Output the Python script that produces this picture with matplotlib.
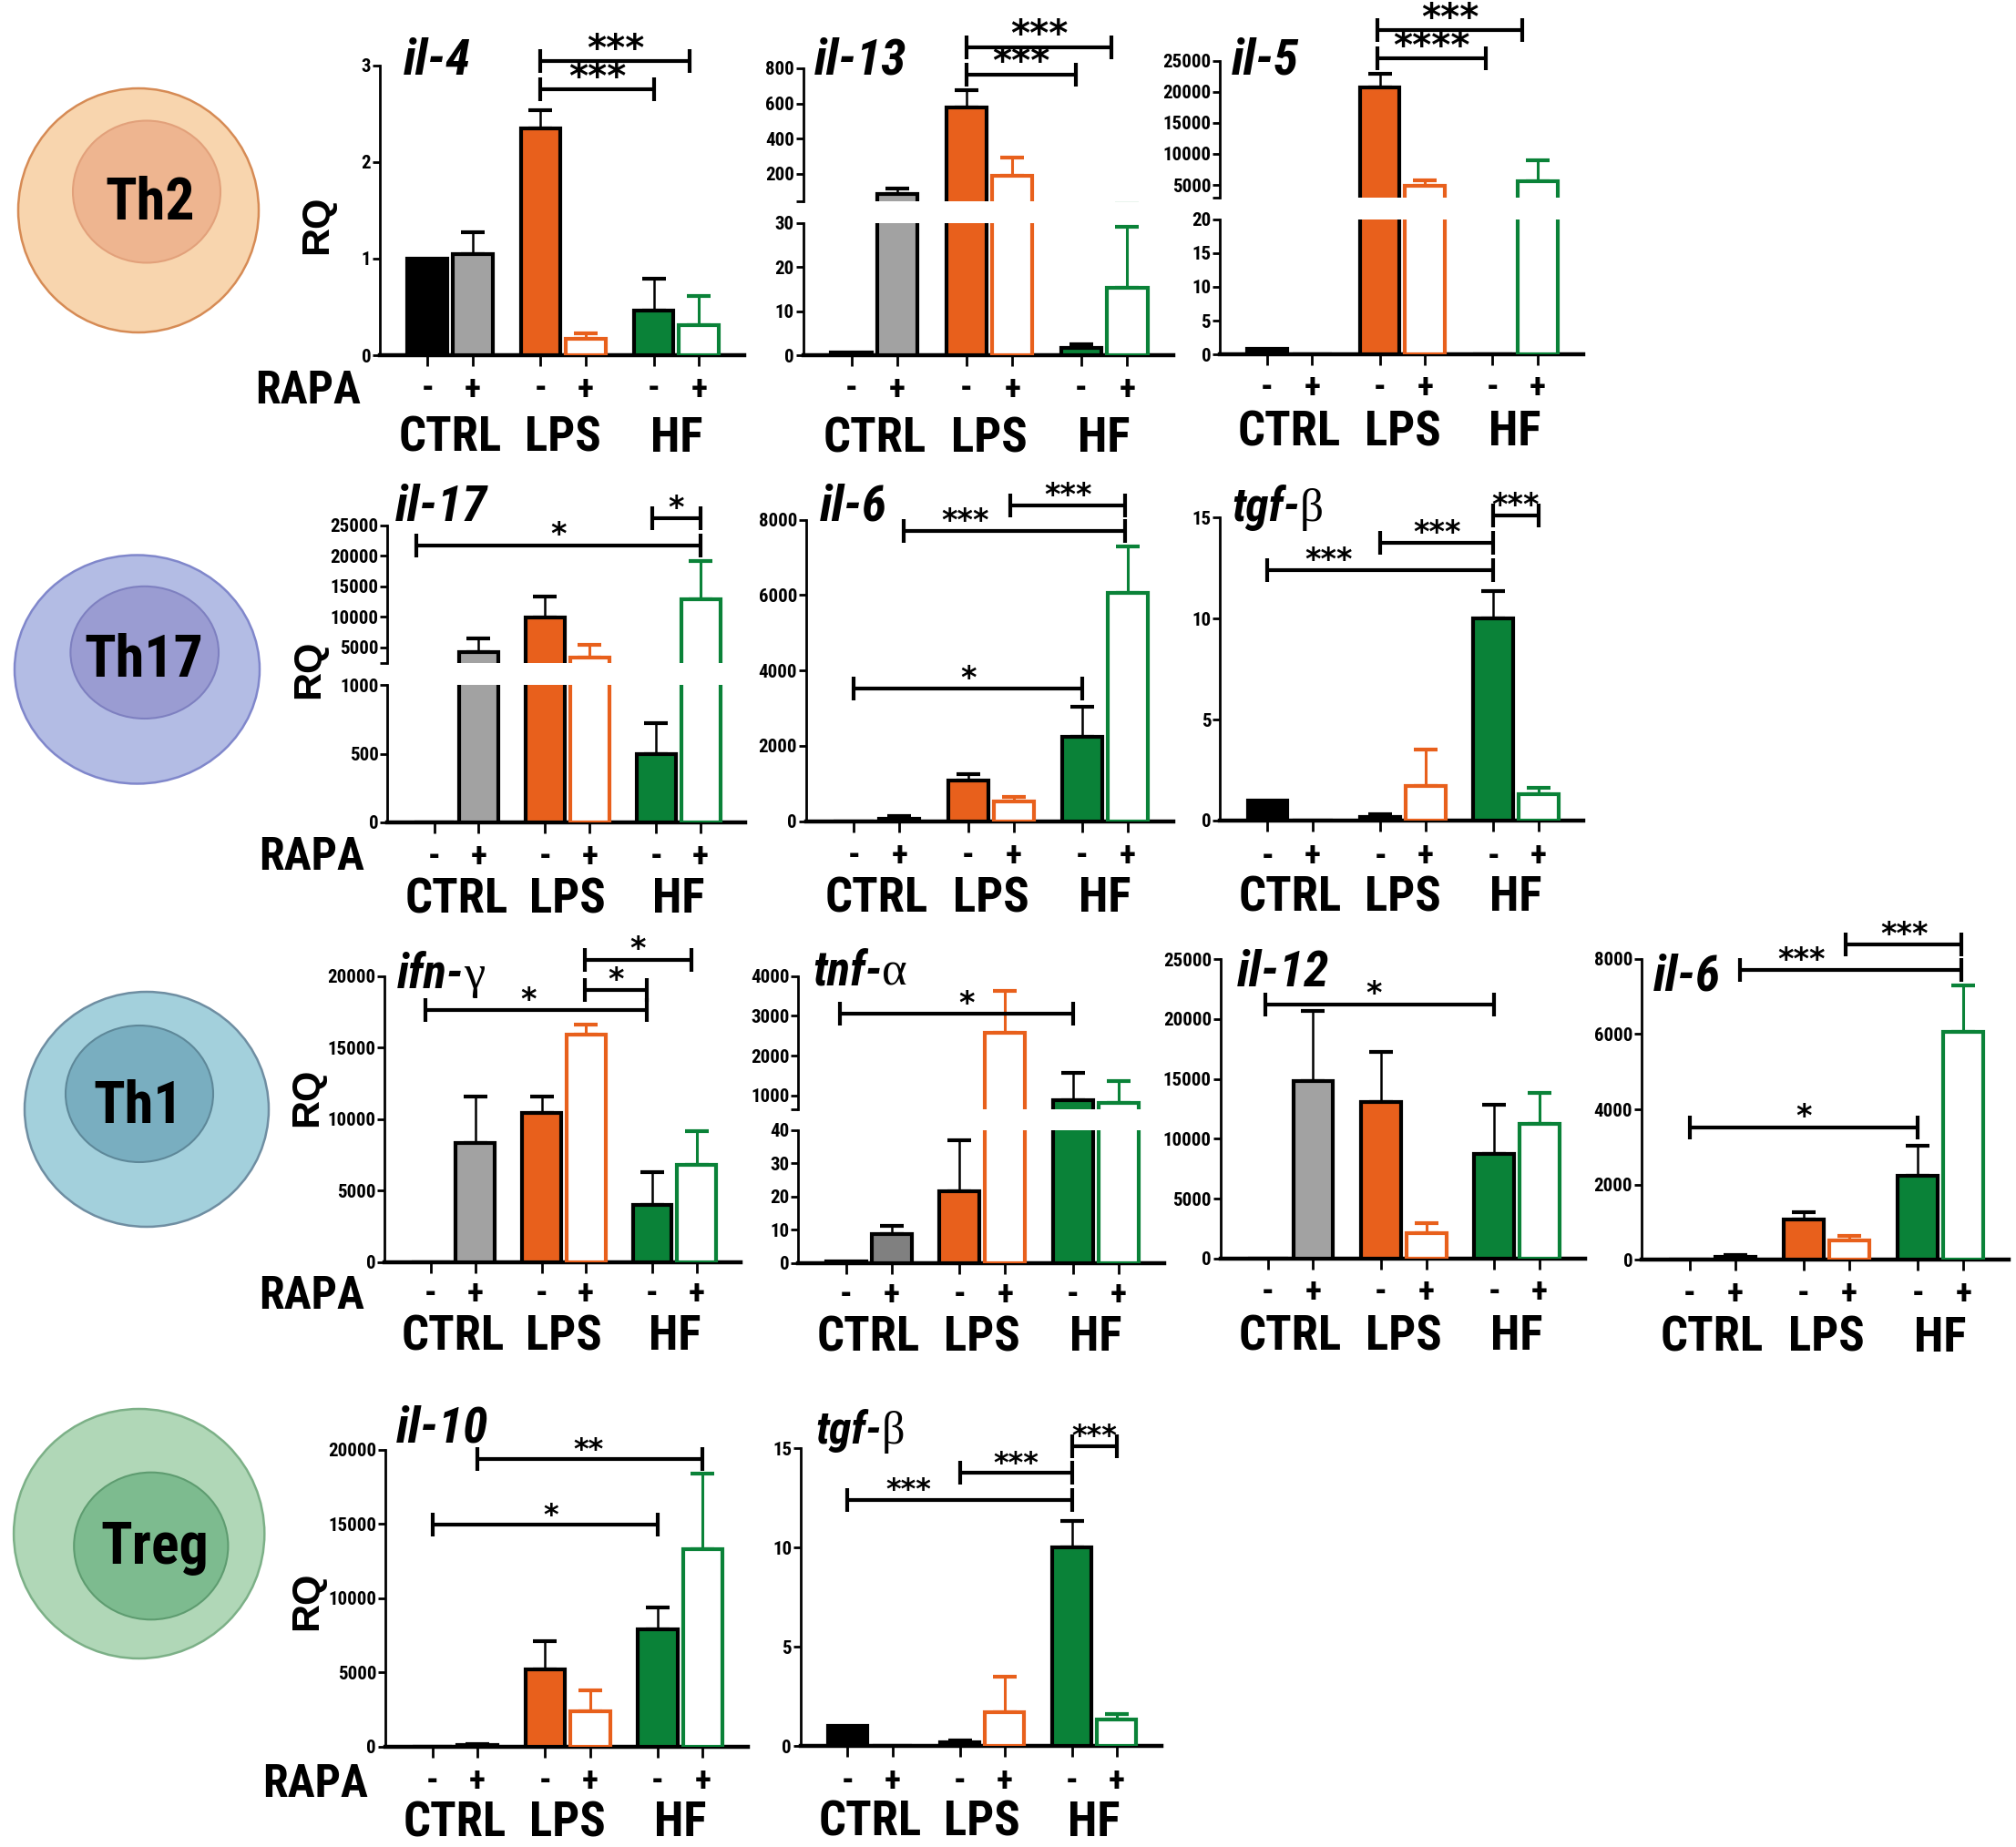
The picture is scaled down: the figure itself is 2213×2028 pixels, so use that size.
import numpy as np
import matplotlib.pyplot as plt
from matplotlib.patches import Ellipse
from matplotlib import font_manager

W, H = 2213, 2028

# a condensed sans face if one is installed, otherwise Liberation Sans a bit smaller
ttf = font_manager.fontManager.ttflist
installed = {f.name for f in ttf}
NARROW, STRETCH, NS = 'Liberation Sans', 'normal', 0.86
for name in ['Liberation Sans Narrow', 'Arial Narrow', 'Roboto Condensed',
             'Open Sans Condensed', 'DejaVu Sans Condensed', 'Noto Sans Condensed']:
    if name in installed:
        NARROW, STRETCH, NS = name, 'normal', 1.0
        break
else:
    for fam in ['Liberation Sans', 'Noto Sans', 'Open Sans', 'Roboto', 'DejaVu Sans']:
        if any(f.name == fam and f.stretch in ('condensed', 'semi-condensed')
               and f.weight in (600, 700, 800, 'bold', 'semibold') for f in ttf):
            NARROW, STRETCH, NS = fam, 'condensed', 1.0
            break
NF = dict(family=NARROW, stretch=STRETCH)
WIDE = 'Liberation Sans'
STAR = 'DejaVu Sans'
GREEK = 'Liberation Serif'

# ---------------- data ----------------
groups = ['CTRL', 'LPS', 'HF']
rapa = ['-', '+', '-', '+', '-', '+']
xpos = [0, 1, 2.5, 3.5, 5, 6]
gpos = [0.5, 3.0, 5.5]

il4_mean = [1.0, 1.05, 2.35, 0.17, 0.46, 0.31]
il4_err = [0, 0.22, 0.19, 0.06, 0.33, 0.30]
il13_mean = [0.7, 84, 578, 188, 1.7, 15.3]
il13_err = [0, 31, 98, 107, 0.7, 13.8]
il5_mean = [0.9, 0, 20700, 4800, 0.1, 5600]
il5_err = [0, 0, 2200, 900, 0, 3350]
il17_mean = [0, 4300, 9900, 3400, 500, 12950]
il17_err = [0, 2200, 3500, 2100, 222, 6150]
il6_mean = [0, 70, 1070, 520, 2240, 6050]
il6_err = [0, 60, 190, 115, 800, 1250]
tgf_mean = [1.0, 0, 0.2, 1.7, 10.0, 1.33]
tgf_err = [0, 0, 0.1, 1.8, 1.35, 0.28]
ifn_mean = [0, 8320, 10400, 15900, 4010, 6770]
ifn_err = [0, 3250, 1170, 700, 2290, 2400]
tnf_mean = [0.5, 8.8, 21.5, 2580, 870, 810]
tnf_err = [0, 2.5, 15.5, 1050, 700, 550]
il12_mean = [0, 14850, 13070, 2080, 8760, 11240]
il12_err = [0, 5840, 4160, 890, 4110, 2590]
il10_mean = [0, 100, 5200, 2350, 7900, 13300]
il10_err = [0, 60, 1880, 1450, 1470, 5100]

# significance brackets: (x from, x to, height, label, label x)
il4_br = [(2.5, 5.8, 3.04, '***', None), (2.5, 5.0, 2.75, '***', None)]
il13_br = [(2.5, 5.66, 920, '***', None), (2.5, 4.89, 765, '***', None)]
il5_br = [(2.45, 5.65, 29900, '***', None), (2.45, 4.85, 25350, '****', None)]
il17_br = [(-0.4, 6.0, 21700, '*', None), (4.9, 6.0, 26150, '*', None)]
il6_br = [(0, 5, 3520, '*', None), (1.1, 5.95, 7700, '***', 2.45), (3.42, 5.95, 8380, '***', 4.7)]
tgf_br = [(0, 5, 12.4, '***', 1.35), (2.5, 5, 13.75, '***', None), (5, 6, 15.1, '***', None)]
ifn_br = [(-0.13, 4.87, 17600, '*', 2.2), (3.48, 4.87, 19000, '*', None), (3.48, 5.88, 21150, '*', None)]
tnf_br = [(-0.13, 5.0, 3050, '*', 2.65)]
il12_br = [(-0.06, 5.0, 21250, '*', 2.35)]
il10_br = [(0, 5, 14950, '*', 2.63), (1, 6, 19370, '**', 3.47)]

# ---------------- styles ----------------
BLACK = '#000000'
GRAY = '#a2a2a2'
DGRAY = '#808080'
ORANGE = '#e8601c'
GREEN = '#0a8238'
FILLS = [BLACK, GRAY, ORANGE, 'white', GREEN, 'white']
EDGES = ['black', 'black', 'black', ORANGE, 'black', GREEN]

fig = plt.figure(figsize=(W / 100, H / 100), dpi=100)

# background layer for cells and side labels (pixel coordinates)
bg = fig.add_axes([0, 0, 1, 1])
bg.set_xlim(0, W)
bg.set_ylim(H, 0)
bg.axis('off')

cells = [
    ('Th2', (152, 231, 132, 134), (161, 210.5, 81, 78), (165, 241), '#f8d5ae', '#d68b55', '#eeb590', '#e2a17b'),
    ('Th17', (150.5, 735, 134.5, 125.5), (158.7, 716.4, 81.3, 72.6), (158, 743), '#b3bce4', '#8087cb', '#9a9cd2', '#7e80c0'),
    ('Th1', (161, 1218, 134, 129), (153, 1201, 81, 75), (152, 1233), '#a3d0dc', '#6f8ea2', '#79aec0', '#5e8899'),
    ('Treg', (152.7, 1684, 137.6, 137), (165.8, 1697.5, 84.6, 80.8), (170, 1717), '#b0d7b7', '#7cb087', '#7dbb8f', '#5e9c70'),
]
for name, out, inn, txy, ofc, oec, ifc, iec in cells:
    bg.add_patch(Ellipse((out[0], out[1]), 2 * out[2], 2 * out[3], fc=ofc, ec=oec, lw=1.8))
    bg.add_patch(Ellipse((inn[0], inn[1]), 2 * inn[2], 2 * inn[3], fc=ifc, ec=iec, lw=1.5))
    bg.text(txy[0], txy[1], name, ha='center', va='baseline', fontsize=46 * NS,
            fontweight='bold', **NF)

for x, y in [(348, 247), (339, 735), (337, 1205), (337, 1758)]:
    bg.text(x, y, 'RQ', rotation=90, ha='center', va='center', fontsize=31,
            fontweight='bold', family=WIDE)
for x, y in [(338, 443), (342, 955), (342, 1437), (346, 1973)]:
    bg.text(x, y, 'RAPA', ha='center', va='baseline', fontsize=36 * NS,
            fontweight='bold', **NF)


def to_rect(l, r, t, b):
    return [l / W, 1 - b / H, (r - l) / W, (b - t) / H]


def style_axis(ax, ylim, ticks, labels, bottom=True):
    ax.set_xlim(-1.05, 7.0)
    ax.set_ylim(*ylim)
    ax.patch.set_alpha(0)
    for s in ('top', 'right'):
        ax.spines[s].set_visible(False)
    ax.spines['left'].set_linewidth(2)
    ax.set_yticks(ticks)
    ax.set_yticklabels(labels, fontweight='bold', fontsize=15 * (0.5 + NS / 2),
                       fontfamily=NARROW, fontstretch=STRETCH)
    ax.tick_params(axis='y', length=6, width=2, pad=1)
    if bottom:
        ax.spines['bottom'].set_linewidth(3.2)
        ax.set_xticks(xpos)
        ax.set_xticklabels([])
        ax.tick_params(axis='x', length=8.5, width=2)
    else:
        ax.spines['bottom'].set_visible(False)
        ax.set_xticks([])


def draw_bars(ax, mean, err, fills):
    ax.bar(xpos, mean, width=0.88, color=fills, edgecolor=EDGES, linewidth=3, zorder=3)
    for x, m, e, ec, fc in zip(xpos, mean, err, EDGES, fills):
        if e > 0:
            ax.errorbar([x], [m], yerr=[[0], [e]], fmt='none', ecolor=ec,
                        elinewidth=1.8 if fc != 'white' else 2.2,
                        capsize=9.5, capthick=3, zorder=2)


def bracket(ax, x1, x2, y, label, tx, fs):
    ax.plot([x1, x2], [y, y], color='black', lw=3, clip_on=False, zorder=5,
            solid_capstyle='butt')
    ax.plot([x1, x2], [y, y], ls='none', marker='|', ms=19, mew=3, color='black',
            clip_on=False, zorder=5)
    ax.annotate(label, ((x1 + x2) / 2 if tx is None else tx, y), xytext=(0, 1),
                textcoords='offset points', ha='center', va='baseline', fontsize=fs,
                fontweight='bold', family=STAR, annotation_clip=False)


def xlabels(ax, pm_dy, grp_dy):
    for x, s in zip(xpos, rapa):
        ax.annotate(s, (x, 0), xycoords=('data', 'axes fraction'),
                    xytext=(0, -pm_dy * 0.72), textcoords='offset points',
                    ha='center', va='center', fontsize=27, fontweight='bold',
                    annotation_clip=False, **NF)
    for x, g in zip(gpos, groups):
        ax.annotate(g, (x, 0), xycoords=('data', 'axes fraction'),
                    xytext=(0, -(grp_dy + 18.5 * NS) * 0.72), textcoords='offset points',
                    ha='center', va='baseline', fontsize=38 * NS, fontweight='bold',
                    annotation_clip=False, **NF)


def title(x, y, txt, greek, size):
    t = fig.text(x / W, 1 - y / H, txt, ha='left', va='baseline', fontsize=size * (0.4 + 0.6 * NS),
                 fontweight='bold', fontstyle='italic', **NF)
    if greek:
        bb = t.get_window_extent(renderer=fig.canvas.get_renderer())
        fig.text(bb.x1 / W, 1 - y / H, greek, ha='left', va='baseline',
                 fontsize=size, family=GREEK)


def panel(mean, err, br, xs, title_xy, name, greek=None, y=None, ylim=None,
          ticks=None, broken=None, fills=FILLS, pm=38, grp=80, fs=24, tsize=40):
    if broken is None:
        ax = fig.add_axes(to_rect(xs[0], xs[1], y[0], y[1]))
        style_axis(ax, ylim, ticks, [str(t) for t in ticks])
        draw_bars(ax, mean, err, fills)
        top, low = ax, ax
    else:
        (ut, ub, ulim, uticks), (lt, lb, llim, lticks) = broken
        top = fig.add_axes(to_rect(xs[0], xs[1], ut, ub))
        style_axis(top, ulim, [ulim[0]] + uticks, [''] + [str(t) for t in uticks], bottom=False)
        low = fig.add_axes(to_rect(xs[0], xs[1], lt, lb))
        style_axis(low, llim, lticks, [str(t) for t in lticks])
        draw_bars(top, mean, err, fills)
        draw_bars(low, mean, err, fills)
    for x1, x2, yy, lab, tx in br:
        bracket(top, x1, x2, yy, lab, tx, fs)
    xlabels(low, pm, grp)
    title(title_xy[0], title_xy[1], name, greek, tsize)


# ---- row 1: Th2 ----
panel(il4_mean, il4_err, il4_br, (417, 817), (443, 82), 'il-4',
      y=(71.7, 390), ylim=(0, 3), ticks=[0, 1, 2, 3], grp=87.5, fs=29)
panel(il13_mean, il13_err, il13_br, (881.6, 1287.9), (894, 82), 'il-13',
      broken=[(75, 220.7, (46, 800), [200, 400, 600, 800]),
              (245, 390, (0, 30), [0, 10, 20, 30])], grp=88, fs=29)
panel(il5_mean, il5_err, il5_br, (1338.9, 1737.5), (1352, 82), 'il-5',
      broken=[(66.7, 216.7, (3000, 25000), [5000, 10000, 15000, 20000, 25000]),
              (240.7, 389.3, (0, 20), [0, 5, 10, 15, 20])], pm=37, grp=81.5, fs=29)

# ---- row 2: Th17 ----
panel(il17_mean, il17_err, il17_br, (425.4, 817.9), (434, 572), 'il-17',
      broken=[(576.7, 727.7, (2500, 25000), [5000, 10000, 15000, 20000, 25000]),
              (752.3, 902.7, (0, 1000), [0, 500, 1000])], pm=39, grp=81)
panel(il6_mean, il6_err, il6_br, (884.8, 1287.9), (900, 572), 'il-6',
      y=(570.7, 901.7), ylim=(0, 8000), ticks=[0, 2000, 4000, 6000, 8000], pm=39, grp=81)
panel(tgf_mean, tgf_err, tgf_br, (1339.3, 1738.3), (1352, 572), 'tgf-', greek='β',
      y=(568.3, 901), ylim=(0, 15), ticks=[0, 5, 10, 15], pm=40, grp=81, tsize=37)

# ---- row 3: Th1 ----
panel(ifn_mean, ifn_err, ifn_br, (421.9, 813.3), (436, 1085), 'ifn-', greek='γ',
      y=(1071.7, 1385.7), ylim=(0, 20000), ticks=[0, 5000, 10000, 15000, 20000],
      pm=36, grp=78, tsize=38)
panel(tnf_mean, tnf_err, tnf_br, (876.4, 1277.7), (892, 1082), 'tnf-', greek='α',
      broken=[(1071.7, 1217.7, (656, 4000), [1000, 2000, 3000, 4000]),
              (1241, 1386.7, (0, 40), [0, 10, 20, 30, 40])],
      fills=[BLACK, DGRAY, ORANGE, 'white', GREEN, 'white'], pm=36, grp=78, tsize=38)
panel(il12_mean, il12_err, il12_br, (1339.6, 1739.6), (1358, 1083), 'il-12',
      y=(1053.3, 1381.7), ylim=(0, 25000), ticks=[0, 5000, 10000, 15000, 20000, 25000],
      pm=38, grp=82)
panel(il6_mean, il6_err, il6_br, (1801.9, 2205.4), (1815, 1087), 'il-6',
      y=(1052.7, 1383.3), ylim=(0, 8000), ticks=[0, 2000, 4000, 6000, 8000], pm=38, grp=82)

# ---- row 4: Treg ----
panel(il10_mean, il10_err, il10_br, (422.8, 820.8), (435, 1583), 'il-10',
      y=(1591.7, 1917.7), ylim=(0, 20000), ticks=[0, 5000, 10000, 15000, 20000],
      pm=39, grp=80, fs=23)
panel(tgf_mean, tgf_err, tgf_br, (878.8, 1275), (895, 1585), 'tgf-', greek='β',
      y=(1590, 1917.3), ylim=(0, 15), ticks=[0, 5, 10, 15], pm=39, grp=80, fs=23, tsize=36)

fig.savefig('out.png', dpi=100)
